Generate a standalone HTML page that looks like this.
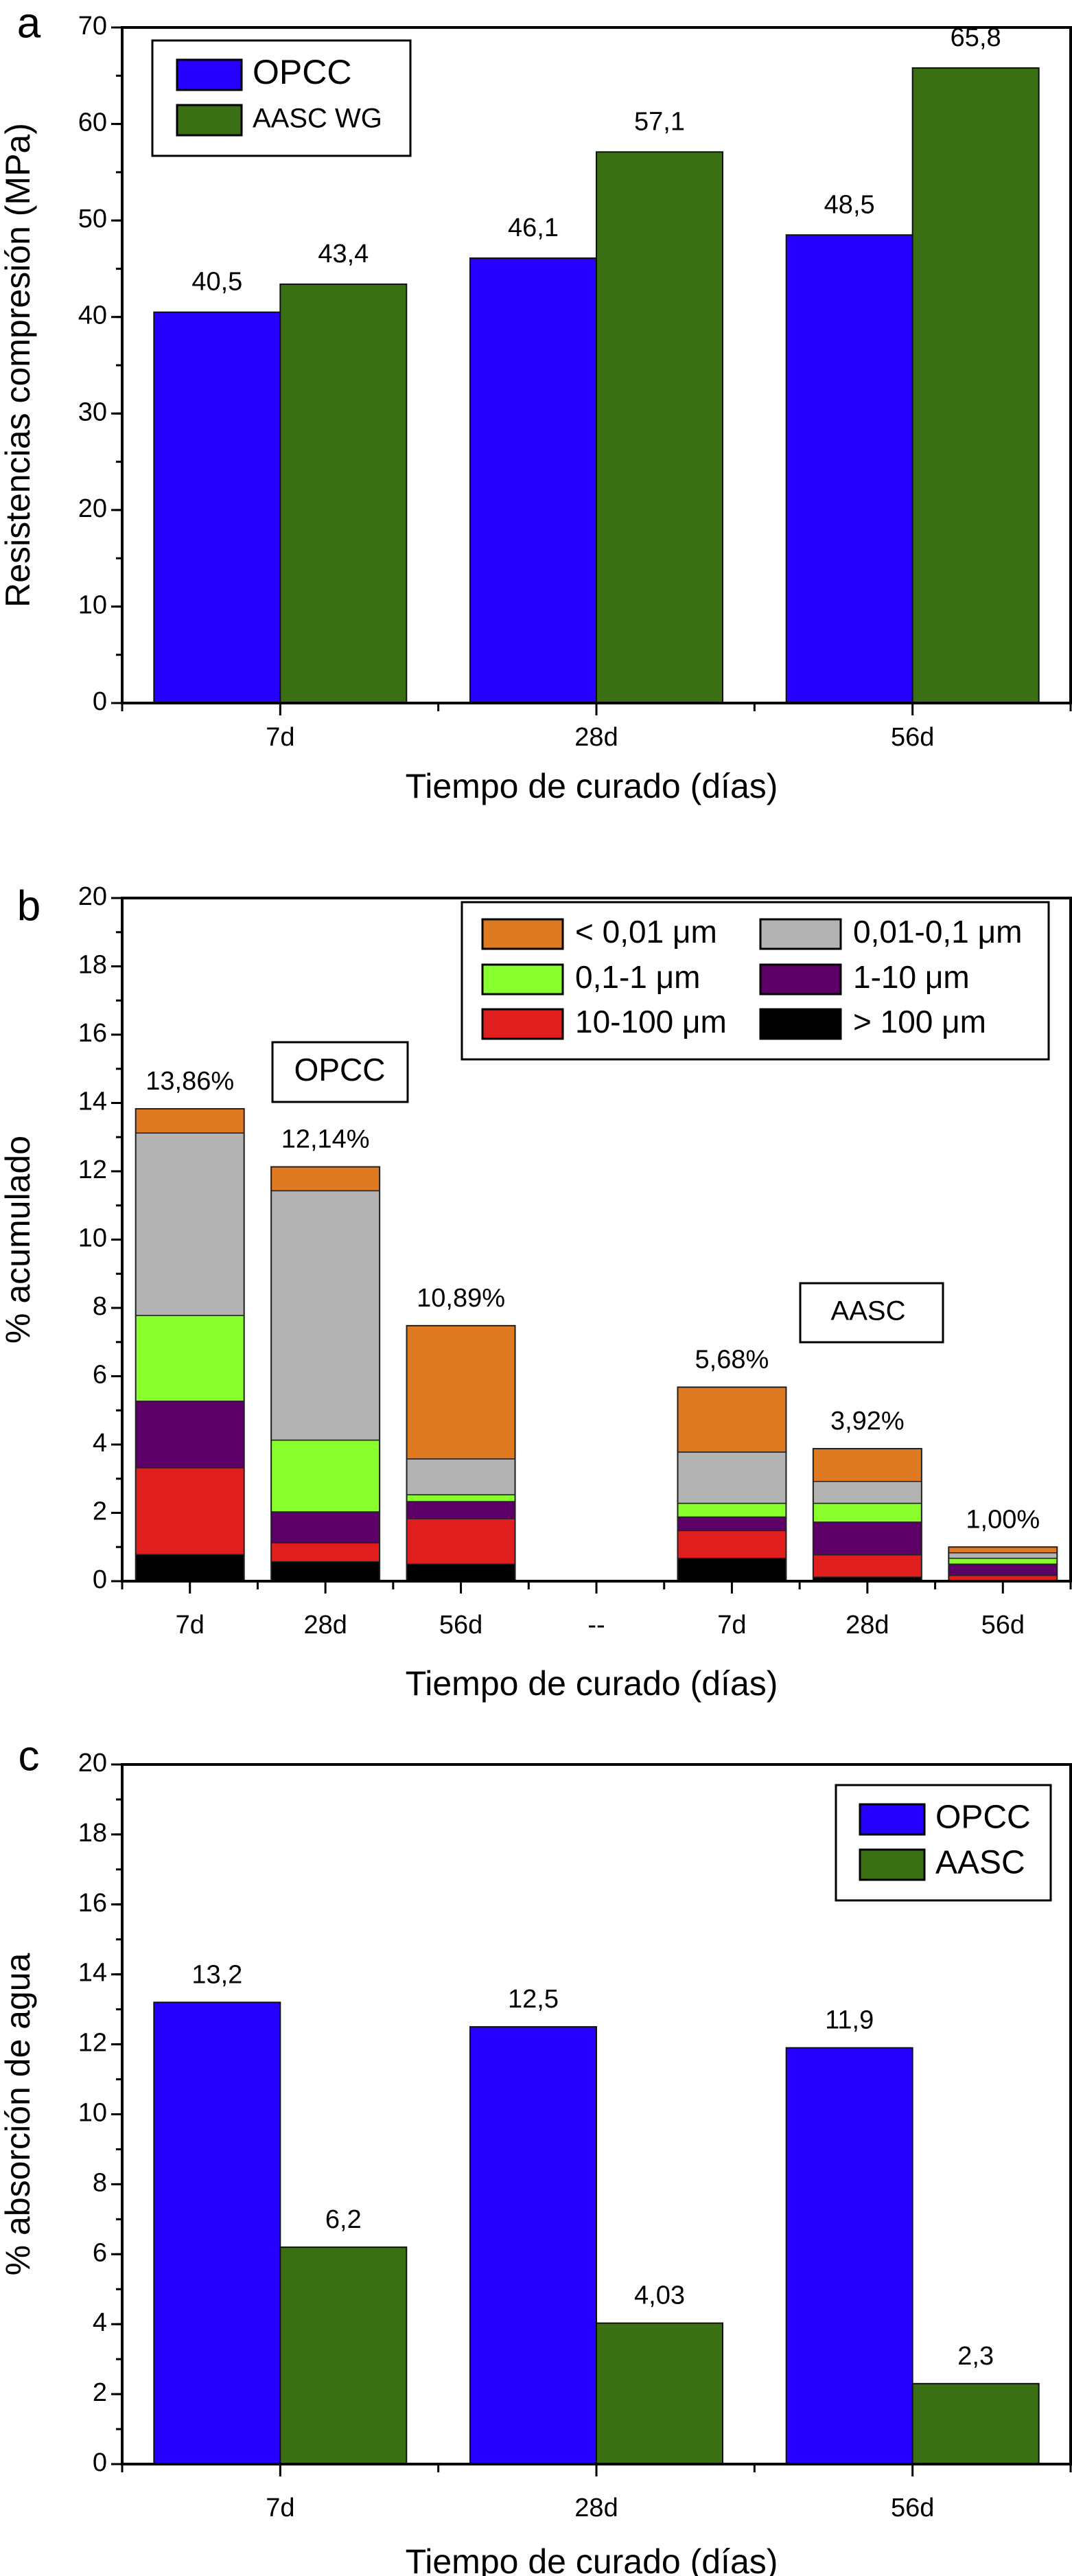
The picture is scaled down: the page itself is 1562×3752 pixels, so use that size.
<!DOCTYPE html>
<html><head><meta charset="utf-8"><style>
html,body{margin:0;padding:0;background:#fff;}
svg{display:block;font-family:"Liberation Sans",Arial,sans-serif;}
</style></head><body>
<svg id="fig" width="1562" height="3752" viewBox="0 0 1562 3752" xmlns="http://www.w3.org/2000/svg"></svg>
<script>
// ---- Chart a data ----
const aCategories = ["7d","28d","56d"];
const aOPCC = [40.5, 46.1, 48.5];
const aAASC = [43.4, 57.1, 65.8];
const aOPCCLabels = ["40,5","46,1","48,5"];
const aAASCLabels = ["43,4","57,1","65,8"];
const aTicks = [0,10,20,30,40,50,60,70];

// ---- Chart b data ----
const bCategories = ["7d","28d","56d","--","7d","28d","56d"];
const bGt100 = [0.78,0.57,0.50,0,0.67,0.12,0.02];
const b10to100 = [2.54,0.55,1.33,0,0.81,0.65,0.15];
const b1to10 = [1.95,0.91,0.50,0,0.40,0.96,0.33];
const b01to1 = [2.51,2.10,0.20,0,0.40,0.55,0.17];
const b001to01 = [5.34,7.30,1.05,0,1.50,0.64,0.16];
const bLt001 = [0.71,0.70,3.90,0,1.90,0.96,0.17];
const bTotalLabels = ["13,86%","12,14%","10,89%","","5,68%","3,92%","1,00%"];
const bTicks = [0,2,4,6,8,10,12,14,16,18,20];

// ---- Chart c data ----
const cCategories = ["7d","28d","56d"];
const cOPCC = [13.2, 12.5, 11.9];
const cAASC = [6.2, 4.03, 2.3];
const cOPCCLabels = ["13,2","12,5","11,9"];
const cAASCLabels = ["6,2","4,03","2,3"];
const cTicks = [0,2,4,6,8,10,12,14,16,18,20];

const NS="http://www.w3.org/2000/svg";
const svg=document.getElementById('fig');
function mk(tag,attrs,parent){const e=document.createElementNS(NS,tag);for(const k in attrs)e.setAttribute(k,attrs[k]);(parent||svg).appendChild(e);return e;}
function txt(s,x,y,size,anchor,parent,extra){const t=mk('text',Object.assign({x:x,y:y,'font-size':size,'text-anchor':anchor||'middle','dominant-baseline':'middle',fill:'#000'},extra||{}),parent);t.textContent=s;return t;}

const BLUE="#2600ff", GREEN="#3b6f14";
const X0=178,X1=1560;

function axes(g,yTop,yBot,ymax,ticks,minorStep,n,yTitle,letter,letterY,xTickY,xTitleY){
  const ys=v=>yBot-(v/ymax)*(yBot-yTop);
  const xs=v=>X0+(v)*(X1-X0)/n;
  // minor y ticks
  for(let v=0;v<=ymax+1e-9;v+=minorStep){const l=mk('line',{x1:X0-9,x2:X0,y1:ys(v),y2:ys(v),stroke:'#000','stroke-width':3},g);}
  ticks.forEach(v=>{
    const l=mk('line',{x1:X0-16,x2:X0,y1:ys(v),y2:ys(v),stroke:'#000','stroke-width':3},g);
    
    const t=txt(String(v),X0-22,ys(v),38,'end',g);
    
  });
  for(let i=0;i<=n;i++){const l=mk('line',{x1:xs(i),x2:xs(i),y1:yBot,y2:yBot+12,stroke:'#000','stroke-width':3},g);}
  for(let i=0;i<n;i++){const l=mk('line',{x1:xs(i+0.5),x2:xs(i+0.5),y1:yBot,y2:yBot+18,stroke:'#000','stroke-width':3},g);}
  const yt=txt(yTitle,0,0,50,'middle',g,{transform:`translate(30,${(yTop+yBot)/2}) rotate(-90)`});
  
  const xt=txt('Tiempo de curado (días)',862,xTitleY,50,'middle',g);
  
  const lt=txt(letter,42,letterY,62,'middle',g);
  
  return {ys,xs};
}
function frame(g,yTop,yBot){const r=mk('rect',{x:X0,y:yTop,width:X1-X0,height:yBot-yTop,fill:'none',stroke:'#000','stroke-width':4},g);}

function groupedChart(name,yTop,yBot,ymax,ticks,minor,cats,s1,s2,l1,l2,yTitle,letter,letterY,xTickY,xTitleY,legend,labOff){
  const g=mk('g',{});
  const {ys,xs}=axes(g,yTop,yBot,ymax,ticks,minor,cats.length,yTitle,letter,letterY,xTickY,xTitleY);
  const bw=184;
  cats.forEach((c,i)=>{
    const cx=xs(i+0.5);
    const b1=mk('rect',{x:cx-bw,y:ys(s1[i]),width:bw,height:yBot-ys(s1[i]),fill:BLUE,stroke:'#111','stroke-width':2},g);
    
    const b2=mk('rect',{x:cx,y:ys(s2[i]),width:bw,height:yBot-ys(s2[i]),fill:GREEN,stroke:'#111','stroke-width':2},g);
    
    const t1=txt(l1[i],cx-bw/2,ys(s1[i])-labOff,38,'middle',g);
    const t2=txt(l2[i],cx+bw/2,ys(s2[i])-labOff,38,'middle',g);
    const xl=txt(c,cx,xTickY,38,'middle',g);
  });
  frame(g,yTop,yBot);
  const lg=mk('g',{},g);
  mk('rect',{x:legend.x,y:legend.y,width:legend.w,height:legend.h,fill:'#fff',stroke:'#000','stroke-width':3},lg);
  legend.items.forEach((it,k)=>{
    const sw=mk('rect',{x:legend.sx,y:legend.rows[k],width:94,height:44,fill:it[1],stroke:'#000','stroke-width':3},lg);
    
    const t=txt(it[0],legend.sx+110,legend.rows[k]+22,it[2],'start',lg);
    
  });
}

// Chart a
groupedChart('chart-a-compressive-strength',40,1024,70,aTicks,5,aCategories,aOPCC,aAASC,aOPCCLabels,aAASCLabels,
 'Resistencias compresión (MPa)','a',38,1076,1149,
 {x:222,y:59,w:376,h:168,sx:258,rows:[87,153],items:[['OPCC',BLUE,50],['AASC WG',GREEN,40]]},42);

// Chart c
groupedChart('chart-c-water-absorption',2570,3589,20,cTicks,1,cCategories,cOPCC,cAASC,cOPCCLabels,cAASCLabels,
 '% absorción de agua','c',2562,3655,3735,
 {x:1218,y:2600,w:313,h:168,sx:1253,rows:[2628,2694],items:[['OPCC',BLUE,48],['AASC',GREEN,48]]},38);

// Chart b
(function(){
  const yTop=1308,yBot=2303,ymax=20;
  const g=mk('g',{});
  const {ys,xs}=axes(g,yTop,yBot,ymax,bTicks,1,bCategories.length,'% acumulado','b',1324,2369,2456);
  const series=[[bGt100,'#000000','> 100 μm'],[b10to100,'#e01e1e','10-100 μm'],[b1to10,'#5c0068','1-10 μm'],[b01to1,'#88ff2c','0,1-1 μm'],[b001to01,'#b3b3b3','0,01-0,1 μm'],[bLt001,'#e07a22','< 0,01 μm']];
  const bw=158;
  bCategories.forEach((c,i)=>{
    const cx=xs(i+0.5);
    let acc=0;
    series.forEach(s=>{
      const v=s[0][i]; if(!v) return;
      const r=mk('rect',{x:cx-bw/2,y:ys(acc+v),width:bw,height:ys(acc)-ys(acc+v),fill:s[1],stroke:'#222','stroke-width':1.5},g);
      
      acc+=v;
    });
    if(acc>0){const ol=mk('rect',{x:cx-bw/2,y:ys(acc),width:bw,height:yBot-ys(acc),fill:'none',stroke:'#222','stroke-width':2},g);}
    if(bTotalLabels[i]){const t=txt(bTotalLabels[i],cx,ys(acc)-38,38,'middle',g);}
    const xl=txt(c,cx,2369,38,'middle',g);
  });
  frame(g,yTop,yBot);
  const lg=mk('g',{},g);
  mk('rect',{x:673,y:1314,width:855,height:229,fill:'#fff',stroke:'#000','stroke-width':3},lg);
  const order=[[5,703,1339],[4,1108,1339],[3,703,1405],[2,1108,1405],[1,703,1470],[0,1108,1470]];
  order.forEach(o=>{
    const s=series[o[0]];
    const sw=mk('rect',{x:o[1],y:o[2],width:117,height:43,fill:s[1],stroke:'#000','stroke-width':3},lg);
    
    const t=txt(s[2],o[1]+135,o[2]+22,46,'start',lg);
    
  });
  const ob=mk('rect',{x:397,y:1518,width:197,height:87,fill:'#fff',stroke:'#000','stroke-width':3},g);
  
  const ot=txt('OPCC',495,1562,46,'middle',g);
  const ab=mk('rect',{x:1166,y:1869,width:208,height:86,fill:'#fff',stroke:'#000','stroke-width':3},g);
  
  const at=txt('AASC',1265,1912,40,'middle',g);
})();
</script>
</body></html>
